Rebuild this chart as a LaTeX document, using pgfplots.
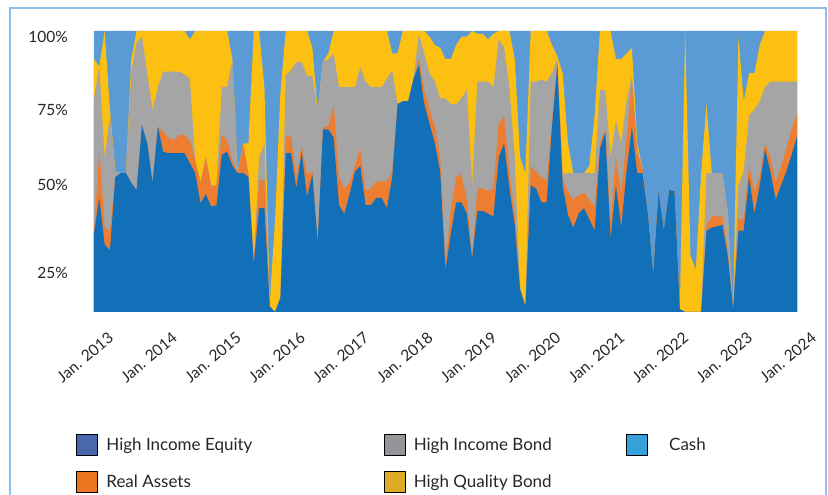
\documentclass[border=0pt]{standalone}
\usepackage{fontspec}
\setmainfont{Lato}
\usepackage{pgfplots}
\usepackage{pgfplotstable}
\pgfplotsset{compat=1.18}
\definecolor{cEq}{HTML}{1170B8}
\definecolor{cRA}{HTML}{ED7D31}
\definecolor{cHIB}{HTML}{A5A5A5}
\definecolor{cHQB}{HTML}{FBC012}
\definecolor{cCash}{HTML}{5B9BD5}
\definecolor{lEq}{HTML}{4A66AC}
\definecolor{lRA}{HTML}{EC7522}
\definecolor{lHIB}{HTML}{939598}
\definecolor{lHQB}{HTML}{DDAB26}
\definecolor{lCash}{HTML}{35A0DA}
\definecolor{frame}{HTML}{8EBEEA}
\definecolor{txt}{HTML}{262626}
% cumulative tops of the stacked layers (share of plot height)
% m = month since Jan. 2013; E = equity; R = +real assets; B = +high income bond; Q = +high quality bond; T = +cash
\pgfplotstableread{
m E R B Q T
0 28 28 76 90 100
1 40.6 57.7 87.3 87.3 100
2 24 30 55 100 100
3 22 29 70 72 100
4 48 48 50 50 100
5 49.4 49.4 49.4 49.4 100
6 49.4 49.4 49.4 49.4 100
7 46 46 85 90 100
8 43.4 43.4 96 100 100
9 66.5 66.5 98 100 100
10 60 60 85 100 100
11 46 46 72 100 100
12 66 66 80 100 100
13 57 64 85.5 100 100
14 56.5 62 85.5 100 100
15 56.5 61 85.5 100 100
16 56.5 63 85.5 100 100
17 56.5 63 84.5 100 100
18 53 61 83 97 100
19 49.4 54 54 100 100
20 38.7 46 46 100 100
21 42 55 55 100 100
22 37.5 45 45 100 100
23 38 45 45 100 100
24 56 63 80 100 100
25 57 61 80.2 100 100
26 52 54 90 90 100
27 49.4 49.4 50 50 100
28 49.4 60 60 60 100
29 48 49 49 60 100
30 17 18 18 100 100
31 37 47 55 100 100
32 37 47 60 80 100
33 2 2 2 3 100
34 0 0 0 33 100
35 5 5 5 78 100
36 56.5 62.3 84.2 100 100
37 56.5 62.5 86 100 100
38 44 48 89 100 100
39 57 59 89 100 100
40 41 49 84 100 100
41 49 50 84 94 100
42 25 25 72 72 100
43 65 66 89 89 100
44 65 66 90 92 100
45 62 74 92 100 100
46 38 48 80 100 100
47 35 44 80 100 100
48 42 46 80 100 100
49 50 52 80 100 100
50 52 58 87 100 100
51 38 43 82 100 100
52 38 44 80 100 100
53 40.6 46.5 80 100 100
54 40.6 46.5 80 100 100
55 37 46.5 83 100 100
56 48 50 86 92 100
57 74 74 74 92 100
58 75 75 75 100 100
59 75 75 75 100 100
60 83 83 83 100 100
61 88 90 99 100 100
62 74 79 92 100 100
63 67 72 85 98 100
64 60 66 82 95 100
65 50 55 76 94 100
66 15 17 76 90 100
67 28 36 74 90 100
68 39 48 74 95 100
69 39 49 76 98 100
70 35 40 79 98 100
71 19 19 45 100 100
72 36 44 82 99 100
73 36 44 82 99 100
74 35 43 82 97 100
75 34 44 80 99 100
76 55 67 97 100 100
77 60 70 94 100 100
78 44 50 80 100 100
79 31 35 55 90 100
80 8 8 9 55 100
81 2 2 2 49.4 100
82 45 52 82 100 100
83 44 50 82 100 100
84 39 48 82.6 100 100
85 39 47 82 100 100
86 66 68 85 95 100
87 88 89 90 91 100
88 45 47 49 85 100
89 34.5 42.8 49.4 60 100
90 30 40 49.4 49.4 100
91 35 41.5 49.4 49.4 100
92 37 42.5 49.4 49.4 100
93 33 40 49.4 52 100
94 29 37.5 49.4 70 100
95 58 60 79 100 100
96 64 65 79 100 100
97 26 32 55 100 100
98 45 55 68 90 100
99 30 42 60 90 100
100 50 62 75 92 100
101 66 83 84 94 100
102 49.4 57 58 60 100
103 49.4 51 51 51 100
104 35 35 35 35 100
105 13.5 13.5 13.5 13.5 100
106 43 43 43 43 100
107 29.2 29.2 29.2 29.2 100
108 43.4 43.4 43.4 43.4 100
109 43 43 43 43 100
110 1 1 1 1 100
111 0 0 0 100 100
112 0 0 0 20 100
113 0 0 0 15 100
114 0 0 0 49.4 100
115 29 31 49.4 74 100
116 30 34 49.4 49.4 100
117 30.5 34 49.4 49.4 100
118 31 34 49.4 49.4 100
119 20 22 35 35 100
120 1 1 1 1 100
121 29 33 45 98 100
122 29 33 50 75 100
123 48 52 70 85 100
124 35 43 72 85 100
125 45 48 75 95 100
126 58 60 80 100 100
127 50 55 82 100 100
128 40 46 82 100 100
129 45 52 82 100 100
130 50 58 82 100 100
131 56 65 82 100 100
132 62.5 70.7 82 100 100
}\alloc
\begin{document}
\begin{tikzpicture}[x=1pt,y=1pt]
\useasboundingbox (0,0) rectangle (828,495);
\draw[frame, line width=2pt] (9.5,487) rectangle (825.5,-20);
\begin{axis}[
  at={(94pt,183pt)}, anchor=south west,
  scale only axis, width=703pt, height=281pt,
  xmin=0, xmax=132, ymin=0, ymax=100,
  axis line style={draw=none}, tick style={draw=none},
  xtick={0,12,...,132},
  xticklabels={Jan. 2013,Jan. 2014,Jan. 2015,Jan. 2016,Jan. 2017,Jan. 2018,Jan. 2019,Jan. 2020,Jan. 2021,Jan. 2022,Jan. 2023,Jan. 2024},
  xticklabel style={rotate=40, anchor=north east, inner sep=0pt, yshift=-23pt, xshift=-2pt, font=\fontsize{15.5}{17}\selectfont, text=txt},
  ytick={13.8,45.2,71.9,98},
  yticklabels={25\%,50\%,75\%,100\%},
  yticklabel style={anchor=east, inner sep=0pt, xshift=-26pt, font=\fontsize{15.5}{18}\selectfont, text=txt},
  legend columns=3,
  legend style={at={(axis description cs:-0.0249,-0.4342)}, anchor=north west,
    draw=none, fill=none, inner sep=0pt, outer sep=0pt, row sep=16pt,
    font=\fontsize{17}{20}\selectfont, text=txt,
    cells={anchor=west, inner sep=0pt},
    /tikz/every odd column/.append style={column sep=6.5pt}},
  legsq/.style={legend image code/.code={\fill[##1] (0pt,-10.5pt) rectangle (21pt,10.5pt);}},
]
\addplot[fill=cCash, draw=none, forget plot] table[x=m,y=T] {\alloc} \closedcycle;
\addplot[fill=cHQB, draw=none, forget plot] table[x=m,y=Q] {\alloc} \closedcycle;
\addplot[fill=cHIB, draw=none, forget plot] table[x=m,y=B] {\alloc} \closedcycle;
\addplot[fill=cRA, draw=none, forget plot] table[x=m,y=R] {\alloc} \closedcycle;
\addplot[fill=cEq, draw=none, forget plot] table[x=m,y=E] {\alloc} \closedcycle;
\addlegendimage{legsq, fill=lEq}
\addlegendentry{\makebox[275.5pt][l]{High Income Equity}}
\addlegendimage{legsq, fill=lHIB}
\addlegendentry{\makebox[210pt][l]{High Income Bond}}
\addlegendimage{legsq, fill=lCash}
\addlegendentry{\hspace{13.5pt}Cash}
\addlegendimage{legsq, fill=lRA}
\addlegendentry{\makebox[275.5pt][l]{Real Assets}}
\addlegendimage{legsq, fill=lHQB}
\addlegendentry{\makebox[210pt][l]{High Quality Bond}}
\end{axis}
\end{tikzpicture}
\end{document}
